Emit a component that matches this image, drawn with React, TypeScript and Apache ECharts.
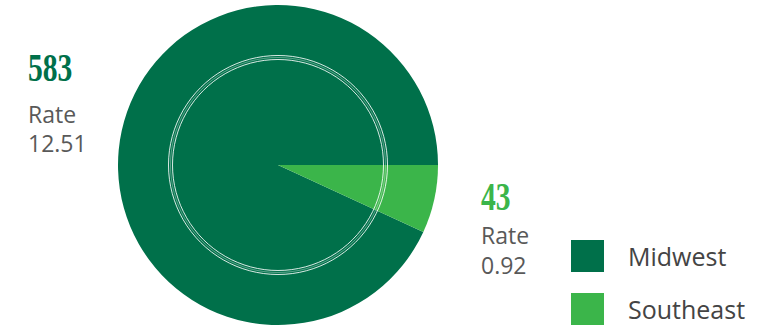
import React, { useEffect, useRef } from "react";
import * as echarts from "echarts";

const regions = ["Midwest", "Southeast"];
const counts = [583, 43];
const rates = ["12.51", "0.92"];
const colors = ["#00704A", "#3BB54A"];

export default function App() {
  const ref = useRef<HTMLDivElement>(null);
  useEffect(() => {
    document.body.style.margin = "0";
    const chart = echarts.init(ref.current!, undefined, { renderer: "svg" });
    const cx = 278;
    const cy = 165;
    const bigFont = "bold 40px 'Liberation Serif'";
    const smallFont = "23px 'Open Sans'";
    const labelPos = [
      { x: 28, numY: 67.5, rateY: 113.5, valY: 142.5 },
      { x: 481, numY: 197, rateY: 235, valY: 265 },
    ];
    const labels: any[] = [];
    regions.forEach((r, i) => {
      const p = labelPos[i];
      labels.push({
        type: "text",
        x: p.x,
        y: p.numY,
        scaleX: 0.74,
        silent: true,
        style: { text: String(counts[i]), font: bigFont, fill: colors[i], verticalAlign: "middle" },
      });
      labels.push({
        type: "text",
        x: p.x,
        y: p.rateY,
        silent: true,
        style: { text: "Rate", font: smallFont, fill: "#595959", verticalAlign: "middle" },
      });
      labels.push({
        type: "text",
        x: p.x,
        y: p.valY,
        silent: true,
        style: { text: rates[i], font: smallFont, fill: "#595959", verticalAlign: "middle" },
      });
    });
    chart.setOption({
      animation: false,
      legend: {
        orient: "vertical",
        left: 571,
        top: 240,
        padding: 0,
        itemWidth: 33,
        itemHeight: 32,
        itemGap: 21,
        icon: "rect",
        selectedMode: false,
        data: regions,
        textStyle: { fontSize: 25, color: "#444", fontFamily: "Open Sans", padding: [0, 0, 0, 19] },
      },
      series: [
        {
          type: "pie",
          center: [cx, cy],
          radius: [0, 160],
          startAngle: 0,
          clockwise: false,
          label: { show: false },
          labelLine: { show: false },
          silent: true,
          itemStyle: { borderWidth: 0 },
          data: regions.map((r, i) => ({ name: r, value: counts[i], itemStyle: { color: colors[i] } })),
        },
      ],
      graphic: [
        {
          type: "circle",
          silent: true,
          z: 10,
          shape: { cx, cy, r: 109.5 },
          style: { fill: "none", stroke: "rgba(255,255,255,0.85)", lineWidth: 1 },
        },
        {
          type: "circle",
          silent: true,
          z: 10,
          shape: { cx, cy, r: 107.5 },
          style: { fill: "none", stroke: "rgba(255,255,255,0.35)", lineWidth: 1 },
        },
        {
          type: "circle",
          silent: true,
          z: 10,
          shape: { cx, cy, r: 105.5 },
          style: { fill: "none", stroke: "rgba(255,255,255,0.85)", lineWidth: 1 },
        },
        ...labels,
      ],
    });
    return () => chart.dispose();
  }, []);
  return <div ref={ref} style={{ width: 767, height: 326 }} />;
}
